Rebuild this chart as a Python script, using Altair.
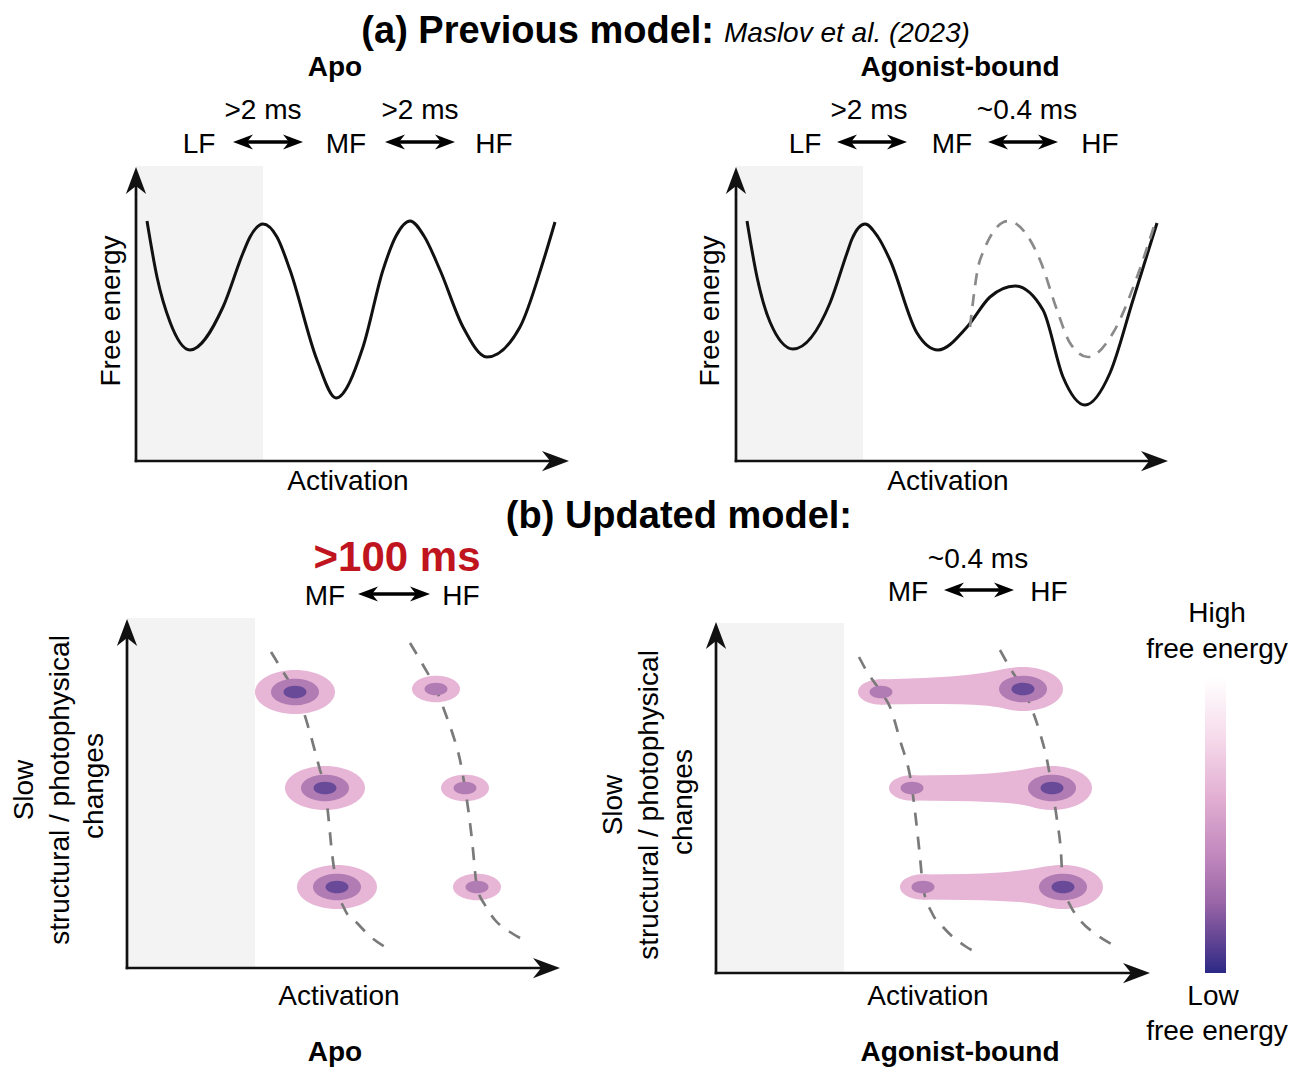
import altair as alt
import pandas as pd

W, H = 1292, 1067
FONT = "Liberation Sans"

# ---------------- data (canvas units) ----------------
# top-left energy landscape (Apo)
apo_x = [147, 157, 170, 190, 223, 243, 250, 263, 277, 290, 317, 336, 363, 383, 396, 410, 424, 440, 463, 487, 520, 543, 555]
apo_e = [221, 277, 322, 350, 307, 253, 237, 224, 237, 270, 360, 398, 347, 270, 236, 221, 236, 270, 327, 357, 327, 262, 222]
# top-right energy landscape (Agonist-bound, solid)
ago_x = [747, 757, 770, 793, 830, 847, 852, 865, 878, 890, 917, 938, 967, 990, 1015, 1043, 1063, 1085, 1110, 1133, 1157]
ago_e = [221, 277, 322, 349, 303, 253, 239, 224, 237, 260, 333, 350, 327, 297, 286, 310, 377, 405, 373, 300, 223]
# top-right previous landscape (dashed)
prev_x = [970, 980, 1008, 1040, 1057, 1070, 1088, 1113, 1137, 1155]
prev_e = [327, 260, 221, 260, 310, 343, 357, 333, 277, 223]

# bottom panels: dashed state paths
bl_mf_x = [271, 282, 295, 303, 310, 320, 325, 328, 332, 337, 345, 357, 372, 387]
bl_mf_y = [652, 670, 692, 710, 733, 770, 788, 813, 853, 887, 910, 923, 938, 948]
bl_hf_x = [410, 423, 436, 446, 453, 460, 465, 469, 472, 477, 485, 495, 510, 528]
bl_hf_y = [643, 665, 689, 715, 735, 760, 788, 815, 840, 887, 905, 920, 932, 942]
br_mf_x = [859, 866, 881, 890, 900, 912, 916, 920, 923, 932, 943, 953, 965, 977]
br_mf_y = [657, 670, 692, 707, 740, 788, 820, 857, 887, 913, 927, 937, 946, 953]
br_hf_x = [1000, 1010, 1023, 1033, 1040, 1047, 1052, 1057, 1061, 1063, 1070, 1080, 1097, 1117]
br_hf_y = [650, 668, 689, 712, 733, 760, 788, 820, 853, 887, 905, 920, 935, 947]

# bottom-left (Apo) populations
apo_mf_cx = [295, 325, 337]
apo_mf_cy = [692, 788, 887]
apo_hf_cx = [436, 465, 477]
apo_hf_cy = [689, 788, 887]
# bottom-right (Agonist-bound) populations
ago_mf_cx = [881, 912, 923]
ago_mf_cy = [692, 788, 887]
ago_hf_cx = [1023, 1052, 1063]
ago_hf_cy = [689, 788, 887]
# ellipse widths per free-energy level
w_outer_big, w_outer_small, w_mid, w_inner = 80, 48, 48, 23
w_tail_end = 46
# tail profile between MF and HF (fraction, upper half-height, lower half-height)
tail_t = [0.0, 0.3, 0.55, 0.75, 0.9, 1.0]
tail_up = [12.5, 13, 14.5, 17.5, 21, 22]
tail_dn = [12.5, 13, 14, 16, 19.5, 21.5]

# shaded (LF) regions
shade_x1 = [136, 736, 127, 716]
shade_x2 = [263, 863, 255, 844]
shade_y1 = [166, 166, 618, 623]
shade_y2 = [461, 461, 968, 973]

# axes: corner and arrow tips
ax_x0 = [136, 736, 127, 716]
ax_y0 = [461, 461, 968, 973]
ax_top = [167, 167, 619, 622]
ax_right = [569, 1168, 560, 1150]

# double arrows between states
arr_x1 = [233, 385, 837, 988, 358, 944]
arr_x2 = [303, 455, 907, 1058, 430, 1014]
arr_y = [142, 142, 142, 142, 594, 590]

# texts
title_txt = ["(a) Previous model:", "(b) Updated model:"]
title_x = [714, 852]
title_y = [32, 517]
cite_txt = ["Maslov et al. (2023)"]
cite_x = [724]
cite_y = [34]
panel_txt = ["Apo", "Agonist-bound", "Apo", "Agonist-bound"]
panel_x = [335, 960, 335, 960]
panel_y = [68, 68, 1053, 1053]
lab_txt = [">2 ms", ">2 ms", ">2 ms", "~0.4 ms", "LF", "MF", "HF", "LF", "MF", "HF",
           "Activation", "Activation", "MF", "HF", "~0.4 ms", "MF", "HF",
           "Activation", "Activation", "High", "free energy", "Low", "free energy"]
lab_x = [263, 420, 869, 1027, 199, 346, 494, 805, 952, 1100,
         348, 948, 325, 461, 978, 908, 1049,
         339, 928, 1217, 1217, 1213, 1217]
lab_y = [111, 111, 111, 111, 145, 145, 145, 145, 145, 145,
         482, 482, 597, 597, 560, 593, 593,
         997, 997, 614, 650, 997, 1032]
rot_txt = ["Free energy", "Free energy", "Slow", "structural / photophysical", "changes",
           "Slow", "structural / photophysical", "changes"]
rot_x = [112, 711, 25, 61, 95, 614, 650, 684]
rot_y = [311, 311, 790, 790, 786, 805, 805, 802]
red_txt = [">100 ms"]
red_x = [397]
red_y = [558]

# colour bar
bar_x1, bar_x2, bar_y1, bar_y2 = [1205], [1226], [678], [973]

# ---------------- helpers ----------------
xs = alt.Scale(domain=[0, W], nice=False, zero=False)
ys = alt.Scale(domain=[0, H], nice=False, zero=False, reverse=True)


def X(f="x"):
    return alt.X(f"{f}:Q", scale=xs, axis=None)


def Y(f="y"):
    return alt.Y(f"{f}:Q", scale=ys, axis=None)


ELLIPSE = ("M1,0 C1,0.3038 0.5523,0.55 0,0.55 C-0.5523,0.55 -1,0.3038 -1,0 "
           "C-1,-0.3038 -0.5523,-0.55 0,-0.55 C0.5523,-0.55 1,-0.3038 1,0 Z")
ARROW = "M0,0 L-2,-0.75 L-1.4,0 L-2,0.75 Z"

levels = ["outer", "mid", "inner"]
level_colors = ["#e7b6d6", "#b17bb3", "#684a99"]
cscale = alt.Scale(domain=levels, range=level_colors)

layers = []

# shaded regions
shade_df = pd.DataFrame({"x": shade_x1, "x2": shade_x2, "y": shade_y1, "y2": shade_y2})
layers.append(alt.Chart(shade_df).mark_rect(color="#f3f3f3").encode(
    x=X(), x2="x2:Q", y=Y(), y2="y2:Q"))

# axes
rule_rows = []
head_rows = []
for x0, y0, yt, xr in zip(ax_x0, ax_y0, ax_top, ax_right):
    rule_rows.append({"x": x0, "y": y0 + 1.3, "x2": x0, "y2": yt + 16})
    rule_rows.append({"x": x0 - 1.3, "y": y0, "x2": xr - 16, "y2": y0})
    head_rows.append({"x": x0, "y": yt, "ang": 270})
    head_rows.append({"x": xr, "y": y0, "ang": 0})
layers.append(alt.Chart(pd.DataFrame(rule_rows)).mark_rule(color="#111111", strokeWidth=2.7).encode(
    x=X(), x2="x2:Q", y=Y(), y2="y2:Q"))
layers.append(alt.Chart(pd.DataFrame(head_rows)).mark_point(
    shape=ARROW, filled=True, color="#111111", opacity=1, size=729, strokeWidth=0).encode(
    x=X(), y=Y(), angle=alt.Angle("ang:Q", scale=None)))

# double arrows
darr_rows = []
dhead_rows = []
for a, b, yy in zip(arr_x1, arr_x2, arr_y):
    darr_rows.append({"x": a + 10, "x2": b - 10, "y": yy})
    dhead_rows.append({"x": a, "y": yy, "ang": 180})
    dhead_rows.append({"x": b, "y": yy, "ang": 0})
layers.append(alt.Chart(pd.DataFrame(darr_rows)).mark_rule(color="black", strokeWidth=3.6).encode(
    x=X(), x2="x2:Q", y=Y()))
layers.append(alt.Chart(pd.DataFrame(dhead_rows)).mark_point(
    shape=ARROW, filled=True, color="black", opacity=1, size=400, strokeWidth=0).encode(
    x=X(), y=Y(), angle=alt.Angle("ang:Q", scale=None)))

# energy curves
solid_df = pd.DataFrame({
    "x": apo_x + ago_x,
    "y": apo_e + ago_e,
    "curve": ["apo"] * len(apo_x) + ["ago"] * len(ago_x),
})
layers.append(alt.Chart(solid_df).mark_line(
    color="#111111", strokeWidth=3, interpolate="monotone").encode(
    x=X(), y=Y(), detail="curve:N"))
prev_df = pd.DataFrame({"x": prev_x, "y": prev_e})
layers.append(alt.Chart(prev_df).mark_line(
    color="#8a8a8a", strokeWidth=2.7, strokeDash=[12, 9], interpolate="monotone").encode(
    x=X(), y=Y()))

# outer ellipses & blobs
outer_rows = []
for cx, cy in zip(apo_mf_cx, apo_mf_cy):
    outer_rows.append({"x": cx, "y": cy, "w": w_outer_big, "level": "outer"})
for cx, cy in zip(apo_hf_cx, apo_hf_cy):
    outer_rows.append({"x": cx, "y": cy, "w": w_outer_small, "level": "outer"})
for cx, cy in zip(ago_mf_cx, ago_mf_cy):
    outer_rows.append({"x": cx, "y": cy, "w": w_tail_end, "level": "outer"})
for cx, cy in zip(ago_hf_cx, ago_hf_cy):
    outer_rows.append({"x": cx, "y": cy, "w": w_outer_big, "level": "outer"})
outer_df = pd.DataFrame(outer_rows)

tail_rows = []
for r, (mx, my, hx, hy) in enumerate(zip(ago_mf_cx, ago_mf_cy, ago_hf_cx, ago_hf_cy)):
    for t, up, dn in zip(tail_t, tail_up, tail_dn):
        cx = mx + t * (hx - mx)
        cy = my + t * (hy - my)
        tail_rows.append({"x": cx, "y": cy - up, "y2": cy + dn, "row": r})
tail_df = pd.DataFrame(tail_rows)
layers.append(alt.Chart(tail_df).mark_area(
    color=level_colors[0], opacity=1, interpolate="monotone").encode(
    x=X(), y=Y(), y2="y2:Q", detail="row:N"))

ell_enc = dict(x=X(), y=Y(), size=alt.Size("size:Q", scale=None),
               color=alt.Color("level:N", scale=cscale, legend=None))
layers.append(alt.Chart(outer_df).transform_calculate(size="datum.w * datum.w").mark_point(
    shape=ELLIPSE, filled=True, opacity=1, strokeWidth=0).encode(**ell_enc))

# dashed state paths (bottom)
dash_rows = []
for name, xx, yy in [("blmf", bl_mf_x, bl_mf_y), ("blhf", bl_hf_x, bl_hf_y),
                     ("brmf", br_mf_x, br_mf_y), ("brhf", br_hf_x, br_hf_y)]:
    for i, (a, b) in enumerate(zip(xx, yy)):
        dash_rows.append({"x": a, "y": b, "i": i, "path": name})
layers.append(alt.Chart(pd.DataFrame(dash_rows)).mark_line(
    color="#7a7a7a", strokeWidth=2.7, strokeDash=[13, 11], interpolate="monotone").encode(
    x=X(), y=Y(), detail="path:N", order="i:Q"))

# mid & inner ellipses
in_rows = []
for cx, cy in zip(apo_mf_cx, apo_mf_cy):
    in_rows.append({"x": cx, "y": cy, "w": w_mid, "level": "mid"})
for cx, cy in zip(ago_hf_cx, ago_hf_cy):
    in_rows.append({"x": cx, "y": cy, "w": w_mid, "level": "mid"})
for cx, cy in zip(apo_hf_cx, apo_hf_cy):
    in_rows.append({"x": cx, "y": cy, "w": w_inner, "level": "mid"})
for cx, cy in zip(ago_mf_cx, ago_mf_cy):
    in_rows.append({"x": cx, "y": cy, "w": w_inner, "level": "mid"})
for cx, cy in zip(apo_mf_cx, apo_mf_cy):
    in_rows.append({"x": cx, "y": cy, "w": w_inner, "level": "inner"})
for cx, cy in zip(ago_hf_cx, ago_hf_cy):
    in_rows.append({"x": cx, "y": cy, "w": w_inner, "level": "inner"})
layers.append(alt.Chart(pd.DataFrame(in_rows)).transform_calculate(size="datum.w * datum.w").mark_point(
    shape=ELLIPSE, filled=True, opacity=1, strokeWidth=0).encode(**ell_enc))

# colour bar
bar_df = pd.DataFrame({"x": bar_x1, "x2": bar_x2, "y": bar_y1, "y2": bar_y2})
grad = alt.LinearGradient(
    gradient="linear", x1=0, x2=0, y1=0, y2=1,
    stops=[alt.GradientStop(offset=0.0, color="#ffffff"),
           alt.GradientStop(offset=0.2, color="#f6dbeb"),
           alt.GradientStop(offset=0.4, color="#e3b0d3"),
           alt.GradientStop(offset=0.6, color="#c188bd"),
           alt.GradientStop(offset=0.76, color="#9a66a7"),
           alt.GradientStop(offset=0.9, color="#5d4192"),
           alt.GradientStop(offset=1.0, color="#2b2985")])
layers.append(alt.Chart(bar_df).mark_rect(color=grad).encode(x=X(), x2="x2:Q", y=Y(), y2="y2:Q"))


# texts
def text_layer(txt, xx, yy, **kw):
    df = pd.DataFrame({"x": xx, "y": yy, "t": txt})
    return alt.Chart(df).mark_text(font=FONT, baseline="middle", color="black", **kw).encode(
        x=X(), y=Y(), text="t:N")


layers.append(text_layer(title_txt, title_x, title_y, fontSize=38, fontWeight="bold", align="right"))
layers.append(text_layer(cite_txt, cite_x, cite_y, fontSize=28, fontStyle="italic", align="left"))
layers.append(text_layer(panel_txt, panel_x, panel_y, fontSize=28, fontWeight="bold", align="center"))
layers.append(text_layer(lab_txt, lab_x, lab_y, fontSize=28, align="center"))
layers.append(text_layer(rot_txt, rot_x, rot_y, fontSize=28, align="center", angle=270))
red_df = pd.DataFrame({"x": red_x, "y": red_y, "t": red_txt})
layers.append(alt.Chart(red_df).mark_text(
    font=FONT, baseline="middle", align="center", fontSize=42, fontWeight="bold", color="#c0141e").encode(
    x=X(), y=Y(), text="t:N"))

chart = alt.layer(*layers).properties(
    width=W, height=H,
    autosize=alt.AutoSizeParams(type="none"),
    padding=0,
    background="white",
).configure_view(stroke=None)

chart.save("out.html", embed_options={"renderer": "svg", "actions": False})
